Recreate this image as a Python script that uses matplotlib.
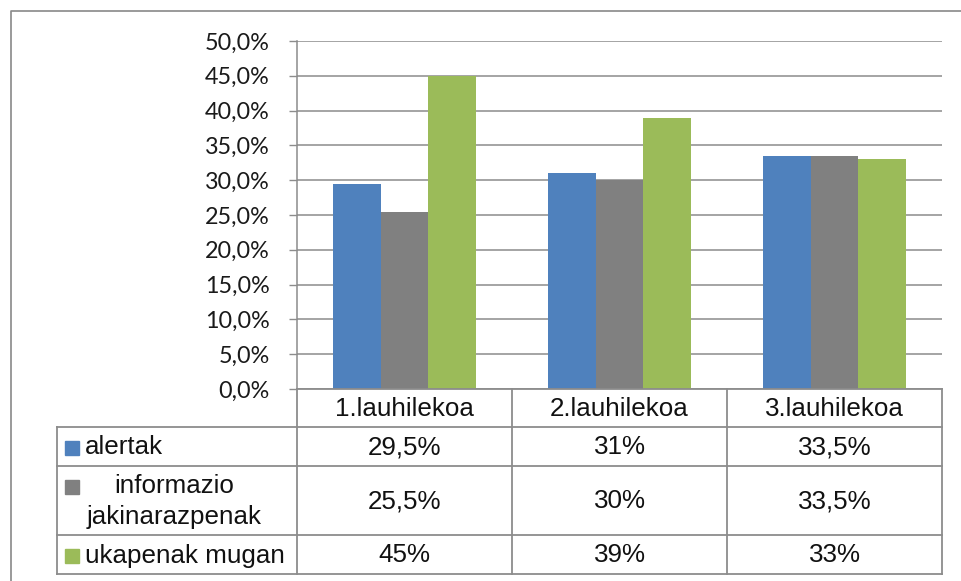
import matplotlib.pyplot as plt
from matplotlib.patches import Rectangle
import numpy as np

periods = ['1.lauhilekoa', '2.lauhilekoa', '3.lauhilekoa']
series = ['alertak', 'informazio\njakinarazpenak', 'ukapenak mugan']
alertak = [29.5, 31, 33.5]
informazio = [25.5, 30, 33.5]
ukapenak = [45, 39, 33]
colors = ['#4F81BD', '#808080', '#9BBB59']
yticks = [0, 5, 10, 15, 20, 25, 30, 35, 40, 45, 50]

W, H = 961, 581
grid_c = '#8c8c8c'


def fmt(v):
    if float(v).is_integer():
        return '%d%%' % v
    return ('%.1f%%' % v).replace('.', ',')


fig = plt.figure(figsize=(W / 100, H / 100), dpi=100)

# plot area in pixels: x 297..942, y 41..389
ax = fig.add_axes([297 / W, 1 - 389 / H, (942 - 297) / W, (389 - 41) / H])
x = np.arange(len(periods))
bw = 0.221
for i, vals in enumerate([alertak, informazio, ukapenak]):
    ax.bar(x + (i - 1) * bw, vals, bw, color=colors[i], zorder=3)

ax.set_xlim(-0.5, 2.5)
ax.set_ylim(0, 50)
ax.set_yticks(yticks)
ax.set_yticklabels([('%.1f%%' % t).replace('.', ',') for t in yticks],
                   family='Lato', fontsize=16.8, color='#1a1a1a')
ax.set_xticks([])
ax.tick_params(axis='y', length=6, width=1, color=grid_c, pad=13.5)
ax.yaxis.grid(True, color=grid_c, lw=1.1, zorder=0)
for s in ['top', 'right', 'bottom']:
    ax.spines[s].set_visible(False)
ax.spines['left'].set_color(grid_c)
ax.spines['left'].set_linewidth(1.1)

# overlay in pixel coordinates for frame + data table
ov = fig.add_axes([0, 0, 1, 1])
ov.set_xlim(0, W)
ov.set_ylim(H, 0)
ov.axis('off')

ov.plot([11, 11, W + 5], [H + 5, 11, 11], color='#898989', lw=1.2)

cols = [297, 512, 727, 942]
rows = [427, 466, 535, 574]
tc = '#8c8c8c'
tlw = 1.3
# header
ov.plot([297, 942], [389, 389], color=tc, lw=tlw)
for cx in cols:
    ov.plot([cx, cx], [389, 574], color=tc, lw=tlw)
ov.plot([57, 57], [427, 574], color=tc, lw=tlw)
for ry in rows:
    ov.plot([57, 942], [ry, ry], color=tc, lw=tlw)

tfont = dict(family='Liberation Sans', fontsize=18.7, color='#111111')
for j, p in enumerate(periods):
    ov.text((cols[j] + cols[j + 1]) / 2, 409, p, ha='center', va='center', **tfont)

data = [alertak, informazio, ukapenak]
row_top = [427, 466, 535]
row_bot = [466, 535, 574]
for i, name in enumerate(series):
    cy = (row_top[i] + row_bot[i]) / 2 + 1
    ov.add_patch(Rectangle((65, cy - 7 if '\n' not in name else 466 + 14), 14, 14,
                           color=colors[i]))
    if '\n' in name:
        ov.text(174, cy, name, ha='center', va='center', multialignment='center',
                linespacing=1.4, **tfont)
    else:
        ov.text(85, cy, name, ha='left', va='center', **tfont)
    for j in range(len(periods)):
        ov.text((cols[j] + cols[j + 1]) / 2, cy, fmt(data[i][j]),
                ha='center', va='center', **tfont)

fig.savefig('out.png', dpi=100)
